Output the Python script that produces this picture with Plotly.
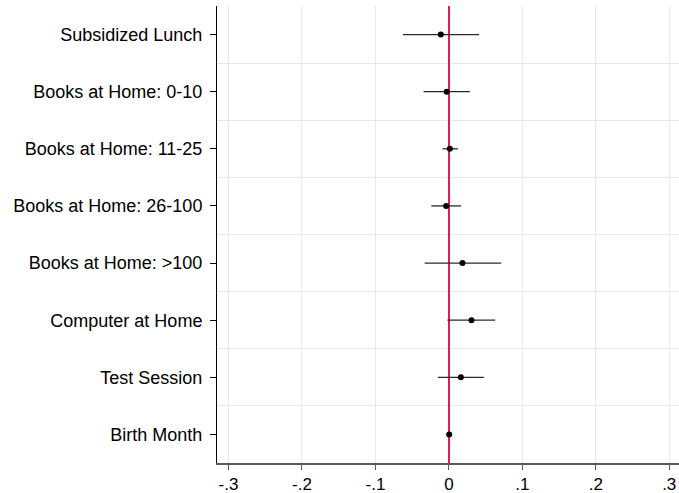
import plotly.graph_objects as go

# Coefficient estimates with 95% confidence intervals
variables = [
    "Subsidized Lunch",
    "Books at Home: 0-10",
    "Books at Home: 11-25",
    "Books at Home: 26-100",
    "Books at Home: >100",
    "Computer at Home",
    "Test Session",
    "Birth Month",
]
coef = [-0.011, -0.003, 0.0013, -0.0037, 0.0185, 0.0308, 0.0163, 0.0004]
ci_low = [-0.0626, -0.0345, -0.0087, -0.024, -0.033, -0.002, -0.015, -0.0006]
ci_high = [0.0412, 0.0285, 0.0122, 0.0167, 0.0712, 0.063, 0.0476, 0.0014]

x_ticks = [-0.3, -0.2, -0.1, 0.0, 0.1, 0.2, 0.3]
x_tick_text = ["-.3", "-.2", "-.1", "0", ".1", ".2", ".3"]

pos = list(range(len(variables)))
err_plus = [h - c for h, c in zip(ci_high, coef)]
err_minus = [c - l for c, l in zip(coef, ci_low)]

fig = go.Figure()
fig.add_trace(go.Scatter(
    x=coef,
    y=pos,
    mode="markers",
    marker=dict(color="black", size=6),
    error_x=dict(type="data", array=err_plus, arrayminus=err_minus,
                 color="#2a2a2a", thickness=1.3, width=0),
    showlegend=False,
    hoverinfo="skip",
))

font_family = "Liberation Sans, Arial, Helvetica, sans-serif"

fig.update_layout(
    width=679,
    height=493,
    margin=dict(l=217, r=0, t=6, b=30),
    paper_bgcolor="white",
    plot_bgcolor="white",
    font=dict(family=font_family, color="black"),
    xaxis=dict(
        range=[-0.3157, 0.3133],
        tickmode="array",
        tickvals=x_ticks,
        ticktext=x_tick_text,
        tickfont=dict(size=17, color="black"),
        showgrid=True,
        gridcolor="#e8e8e8",
        gridwidth=1,
        zeroline=True,
        zerolinecolor="#dc1e50",
        zerolinewidth=2,
        showline=True,
        linecolor="#5a5a5a",
        linewidth=1.5,
        ticks="outside",
        ticklen=5,
        tickcolor="#5a5a5a",
        tickwidth=1,
    ),
    yaxis=dict(
        range=[7.5, -0.5],
        tickmode="array",
        tickvals=pos,
        ticktext=variables,
        tickfont=dict(size=18, color="black"),
        showgrid=False,
        zeroline=False,
        showline=True,
        linecolor="black",
        linewidth=1,
        ticks="outside",
        ticklen=6,
        tickcolor="black",
        tickwidth=1,
        ticklabelstandoff=4,
        minor=dict(
            tickmode="array",
            tickvals=[p + 0.5 for p in pos[:-1]],
            showgrid=True,
            gridcolor="#e8e8e8",
            gridwidth=1,
            ticks="",
        ),
    ),
)

fig.write_html("out.html")
